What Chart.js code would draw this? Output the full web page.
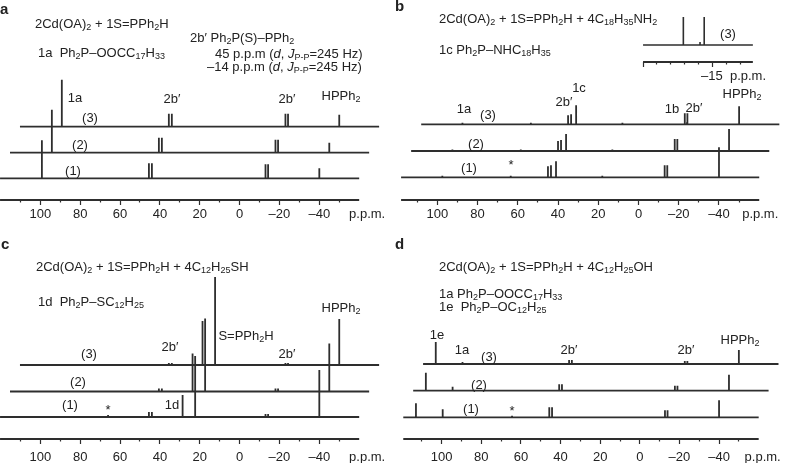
<!DOCTYPE html>
<html>
<head>
<meta charset="utf-8">
<script src="https://cdn.jsdelivr.net/npm/chart.js@4.4.1/dist/chart.umd.min.js"></script>
<style>
  body { margin: 0; width: 788px; height: 463px; overflow: hidden; background: #fff;
         font-family: "Liberation Sans", Arial, sans-serif; color: #222; }
  .panel { position: absolute; width: 394px; height: 240px; }
  .panel canvas { position: absolute; left: 0; top: 0; }
  .txt { position: absolute; font-size: 13px; white-space: nowrap; line-height: 1; transform: translateY(-50%); }
  .lbl { position: absolute; font-size: 13px; white-space: nowrap; line-height: 1; transform: translate(-50%, -50%); }
  .tag { position: absolute; font-size: 15px; font-weight: bold; line-height: 1; }
  sub { font-size: 9px; vertical-align: -2px; line-height: 0; }
</style>
</head>
<body>
<div class="panel" id="pa" style="left:0;top:0"><canvas id="ca" width="394" height="232"></canvas></div>
<div class="panel" id="pb" style="left:394px;top:0"><canvas id="cb" width="394" height="232"></canvas>
  <canvas id="ci" width="150" height="94" style="left:240px;top:0"></canvas></div>
<div class="panel" id="pc" style="left:0;top:231px"><canvas id="cc" width="394" height="240"></canvas></div>
<div class="panel" id="pd" style="left:394px;top:231px"><canvas id="cd" width="394" height="240"></canvas></div>
<script>
// 31P NMR peaks: position (p.p.m.) and height of each peak in traces (1), (2), (3)

// a: 2Cd(OA)2 + 1S=PPh2H
const aPpm    = [99.2, 45.5, 44.0, -13.0, -14.3, -40.0];
const aTrace1 = [38, 15, 15, 14, 14, 10];
const aTrace2 = [43, 15, 15, 13, 13, 10];
const aTrace3 = [47, 13, 13, 13, 13, 12];

// b: + 4 C18H35NH2
const bPpm    = [97.5, 63.5, 45.0, 43.5, 41.0, 18.0, -13.0, -14.1, -14.3, -40.0];
const bTrace1 = [1.5, 1.5, 11, 12, 16, 1.5, 12, 0, 12, 30];
const bTrace2 = [1.5, 1.5, 10, 11, 17, 1.5, 12, 0, 12, 22];
const bTrace3 = [1.5, 1.5, 9, 10, 19, 1.5, 11, 2, 11, 18];
// expanded view of trace (3) near -15 p.p.m.
const insetPpm   = [-12.9, -14.1, -14.4];
const insetTrace = [28, 3, 28];

// c: + 4 C12H25SH
const cPpm    = [66.0, 45.5, 44.0, 28.6, 22.3, -13.0, -14.3, -40.0];
const cTrace1 = [2, 5, 5, 22, 61, 3, 3, 47];
const cTrace2 = [0, 3, 3, 38, 73, 3, 3, 48];
const cTrace3 = [0, 2, 2, 44, 88, 2, 2, 46];

// d: + 4 C12H25OH
const dPpm    = [113.0, 99.5, 64.5, 45.7, 44.3, -12.7, -14.0, -40.0];
const dTrace1 = [14, 8, 1.5, 10, 10, 7, 7, 17];
const dTrace2 = [18, 4, 0, 6.5, 6.5, 5, 5, 16];
const dTrace3 = [22, 2, 0, 4, 4, 3, 3, 14];

// spectral window of each panel (left, right)
const windowA = [120.2, -60];
const windowB = [118, -60];
const windowC = [120.2, -60];
const windowD = [119.4, -60];
const windowInset = [-10, -17.9];

// axis ticks
const majorTicks = [100, 80, 60, 40, 20, 0, -20, -40];
const minorTicks = [110, 90, 70, 50, 30, 10, -10, -30, -50];
const insetMajor = [-10];
const insetMinor = [-11, -12, -13, -14, -16, -17];

const SHIFT = 5;          // each higher trace slides 5 p.p.m. to the right
const INK = '#2e2e2e';
const FONT = '"Liberation Sans", Arial, sans-serif';
const CLEAR = 'rgba(0,0,0,0)';

function buildTrace(ppm, heights, win, k, base) {
  const off = SHIFT * k;
  const pts = [{ x: win[0] - off, y: base }];
  ppm.forEach((p, i) => {
    if (!heights[i]) return;
    pts.push({ x: p - off, y: base }, { x: p - off, y: base + heights[i] }, { x: p - off, y: base });
  });
  pts.push({ x: win[1] - off, y: base });
  return pts;
}

function lineSet(data, width) {
  return { data, borderColor: INK, borderWidth: width, pointRadius: 0, tension: 0,
           fill: false, clip: false, borderJoinStyle: 'bevel' };
}

function fmt(v) {
  return v < 0 ? '\u2013' + Math.abs(v) : String(v);
}

// view.unit is the extra tick that carries the unit text; its mark is hidden in the main panels
function makeChart(canvas, datasets, view, major, minor, labelled) {
  const values = [...minor, ...major, view.unit].sort((p, q) => q - p);
  return new Chart(canvas, {
    type: 'line',
    data: { datasets },
    options: {
      responsive: false,
      animation: false,
      events: [],
      layout: { padding: 0 },
      plugins: { legend: { display: false }, tooltip: { enabled: false } },
      scales: {
        x: {
          type: 'linear', reverse: true, min: view.right, max: view.left,
          afterBuildTicks: s => { s.ticks = values.map(v => ({ value: v })); },
          afterFit: s => { s.height = 32; },
          border: { display: false },
          grid: {
            drawOnChartArea: false, tickLength: 5, tickWidth: 1.2,
            tickColor: c => (c.tick && c.tick.value === view.unit && !view.unitMark ? CLEAR : INK),
            tickBorderDash: c => (c.tick && minor.includes(c.tick.value) ? [2.5, 20] : [])
          },
          ticks: {
            autoSkip: false, maxRotation: 0, padding: view.pad, color: '#222',
            labelOffset: view.labelOffset || 0,
            font: { family: FONT, size: 13 },
            callback: v => (v === view.unit ? view.unitText : labelled.includes(v) ? fmt(v) : '')
          }
        },
        y: { display: false, min: 0, max: view.floor }
      }
    }
  });
}

function drawPanel(canvasId, ppm, traces, win, view) {
  const sets = traces.map((h, k) => lineSet(buildTrace(ppm, h, win, k, view.bases[k]), 1.8));
  sets.push(lineSet([{ x: win[0], y: 0 }, { x: win[1], y: 0 }], 2));
  return makeChart(document.getElementById(canvasId), sets, view, majorTicks, minorTicks, majorTicks);
}

// ppm at canvas left/right edges, floor = axis line height, bases = trace baselines above the axis
drawPanel('ca', aPpm, [aTrace1, aTrace2, aTrace3], windowA,
  { left: 120.22, right: -77.47, floor: 200, bases: [21.7, 47.3, 73.3], unit: -64, unitText: 'p.p.m.', pad: 2 });
drawPanel('cb', bPpm, [bTrace1, bTrace2, bTrace3], windowB,
  { left: 121.52, right: -74.3, floor: 200, bases: [22.7, 49, 75.7], unit: -60.5, unitText: 'p.p.m.', pad: 2 });
drawPanel('cc', cPpm, [cTrace1, cTrace2, cTrace3], windowC,
  { left: 120.22, right: -77.47, floor: 208, bases: [22, 47.5, 74], unit: -64, unitText: 'p.p.m.', pad: 5.5 });
drawPanel('cd', dPpm, [dTrace1, dTrace2, dTrace3], windowD,
  { left: 124.08, right: -74.8, floor: 208, bases: [21.7, 48.3, 75], unit: -62, unitText: 'p.p.m.', pad: 5.5 });

// inset of panel b
(function () {
  const view = { left: -9.35, right: -20.14, floor: 62, unit: -15, unitMark: true,
                 unitText: '\u201315  p.p.m.', labelOffset: 21, pad: 2 };
  const sets = [lineSet(buildTrace(insetPpm, insetTrace, windowInset, 0, 17), 1.6),
                lineSet([{ x: windowInset[0], y: 0 }, { x: windowInset[1], y: 0 }], 2)];
  makeChart(document.getElementById('ci'), sets, view, insetMajor, insetMinor, []);
})();

// text: headers (left-aligned) and peak labels (centred)
const sub = s => '<sub>' + s + '</sub>';
const PRIME = '2b\u2032';
const HPPH2 = 'HPPh' + sub(2);
const BASE = '2Cd(OA)' + sub(2) + ' + 1S=PPh' + sub(2) + 'H';

const texts = {
  pa: {
    tag: ['a', 0, 1],
    head: [
      [BASE, 35, 23],
      ['1a&nbsp;&nbsp;Ph' + sub(2) + 'P\u2013OOCC' + sub(17) + 'H' + sub(33), 38, 52],
      [PRIME + ' Ph' + sub(2) + 'P(S)\u2013PPh' + sub(2), 190, 37],
      ['45 p.p.m (<i>d</i>, <i>J</i>' + sub('P-P') + '=245 Hz)', 215, 53],
      ['\u201314 p.p.m (<i>d</i>, <i>J</i>' + sub('P-P') + '=245 Hz)', 207, 66]
    ],
    lbl: [['1a', 75, 97], ['(3)', 90, 117], [PRIME, 172, 98], [PRIME, 287, 98], [HPPH2, 341, 95],
          ['(2)', 80, 144], ['(1)', 73, 170]]
  },
  pb: {
    tag: ['b', 1, -2],
    head: [
      [BASE + ' + 4C' + sub(18) + 'H' + sub(35) + 'NH' + sub(2), 45, 18],
      ['1c Ph' + sub(2) + 'P\u2013NHC' + sub(18) + 'H' + sub(35), 45, 49]
    ],
    lbl: [['1a', 70, 108], ['(3)', 94, 114], [PRIME, 170, 101], ['1c', 185, 87], ['1b', 278, 108],
          [PRIME, 300, 107], [HPPH2, 348, 93], ['(2)', 82, 143], ['(1)', 75, 167], ['*', 117, 164],
          ['(3)', 334, 33]]
  },
  pc: {
    tag: ['c', 1, 5],
    head: [
      [BASE + ' + 4C' + sub(12) + 'H' + sub(25) + 'SH', 36, 35],
      ['1d&nbsp;&nbsp;Ph' + sub(2) + 'P\u2013SC' + sub(12) + 'H' + sub(25), 38, 70]
    ],
    lbl: [['(3)', 89, 122], [PRIME, 170, 115], ['S=PPh' + sub(2) + 'H', 246, 104], [PRIME, 287, 122],
          [HPPH2, 341, 76], ['(2)', 78, 150], ['(1)', 70, 173], ['*', 108, 178], ['1d', 172, 173]]
  },
  pd: {
    tag: ['d', 1, 5],
    head: [
      [BASE + ' + 4C' + sub(12) + 'H' + sub(25) + 'OH', 45, 35],
      ['1a Ph' + sub(2) + 'P\u2013OOCC' + sub(17) + 'H' + sub(33), 45, 62],
      ['1e&nbsp;&nbsp;Ph' + sub(2) + 'P\u2013OC' + sub(12) + 'H' + sub(25), 45, 75]
    ],
    lbl: [['1e', 43, 103], ['1a', 68, 118], ['(3)', 95, 125], [PRIME, 175, 118], [PRIME, 292, 118],
          [HPPH2, 346, 108], ['(2)', 85, 153], ['(1)', 77, 177], ['*', 118, 179]]
  }
};

function place(parent, cls, html, x, y) {
  const el = document.createElement('div');
  el.className = cls;
  el.innerHTML = html;
  el.style.left = x + 'px';
  el.style.top = y + 'px';
  parent.appendChild(el);
}

Object.keys(texts).forEach(id => {
  const panel = document.getElementById(id);
  const t = texts[id];
  place(panel, 'tag', t.tag[0], t.tag[1], t.tag[2]);
  t.head.forEach(h => place(panel, 'txt', h[0], h[1], h[2]));
  t.lbl.forEach(l => place(panel, 'lbl', l[0], l[1], l[2]));
});
</script>
</body>
</html>
